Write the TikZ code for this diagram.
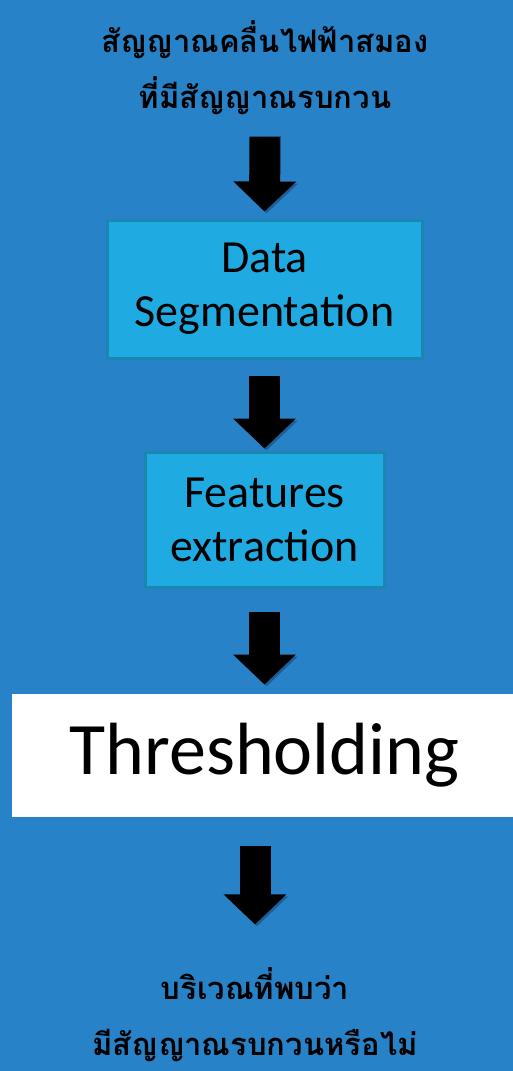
\documentclass[tikz,border=0pt]{standalone}
\usepackage{fontspec}
\setmainfont{Carlito}
\newfontfamily\thaifont[Script=Thai]{Loma}
\usepackage{tikz}
\usetikzlibrary{arrows.meta,positioning}

\definecolor{bgblue}{RGB}{40,130,200}
\definecolor{boxfill}{RGB}{31,171,226}
\definecolor{boxline}{RGB}{27,134,176}
\definecolor{shadowblue}{RGB}{20,60,100}

\tikzset{
  stagebox/.style={draw=boxline, line width=3pt, fill=boxfill, align=center,
    font=\fontsize{46}{54}\selectfont, inner sep=0pt},
  thaitext/.style={align=center, font=\thaifont\bfseries\fontsize{31}{56}\selectfont},
  blockarrow/.style={line width=31pt, black,
    -{Triangle[width=61pt,length=30pt]},
    preaction={draw=shadowblue, opacity=0.5, transform canvas={shift={(2pt,-2pt)}}}}
}

\begin{document}
\begin{tikzpicture}[x=1pt,y=-1pt]
\useasboundingbox (0,0) rectangle (513,1071);
\fill[bgblue] (0,0) rectangle (513,1071);
% nodes
\node[thaitext] (eeg) at (265,68) {สัญญาณคลื่นไฟฟ้าสมอง\\ที่มีสัญญาณรบกวน};
\node[stagebox, minimum width=315pt, minimum height=138pt] (seg) at (264.5,289) {Data\\Segmentation};
\node[stagebox, minimum width=239pt, minimum height=135pt, below=91pt of seg] (feat) {Features\\extraction};
\node[fill=white, minimum width=505pt, minimum height=123pt, inner sep=0pt,
  font=\fontsize{74}{80}\selectfont, below=105pt of feat] (thr) {Thresholding};
\node[thaitext] (res) at (255,1015) {บริเวณที่พบว่า\\มีสัญญาณรบกวนหรือไม่};
% edges
\draw[blockarrow] ([yshift=-18pt]eeg.south) -- ([yshift=7pt]seg.north);
\draw[blockarrow] ([yshift=-16pt]seg.south) -- ([yshift=2pt]feat.north);
\draw[blockarrow] ([yshift=-23pt]feat.south) -- ([yshift=9pt]thr.north);
\draw[blockarrow] ([yshift=-29pt]thr.south -| res.north) -- ([yshift=40pt]res.north);
\end{tikzpicture}
\end{document}
